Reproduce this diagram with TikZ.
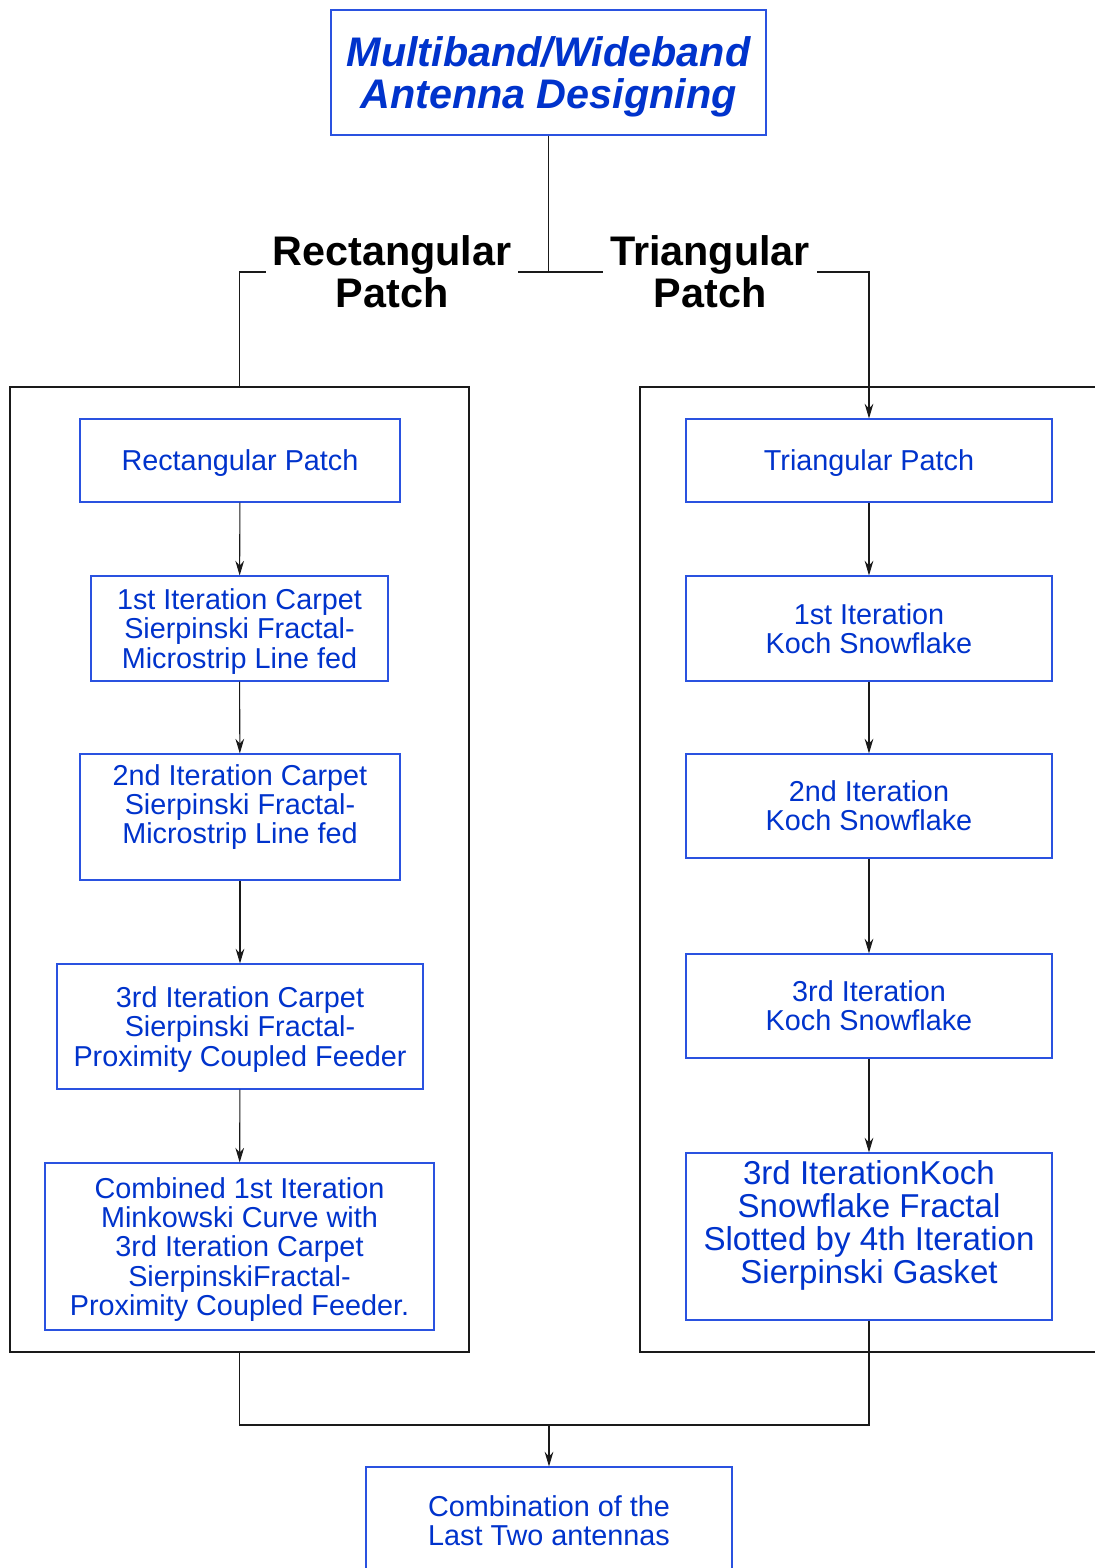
\documentclass[tikz,border=0pt]{standalone}
\usepackage{fontspec}
\setmainfont{Liberation Sans}
\usetikzlibrary{arrows.meta,positioning}
\definecolor{ink}{HTML}{0033CC}
\definecolor{edgec}{HTML}{2A52E0}
\definecolor{linec}{HTML}{1A1A1A}
\tikzset{
  box/.style={draw=edgec,fill=white,line width=0.8pt,align=center,text=ink,inner sep=0pt,
    text depth=0pt,font=\fontsize{21.6}{21.8}\selectfont},
  bigbox/.style={box,font=\fontsize{24.8}{24.8}\selectfont},
  headbox/.style={box,font=\fontsize{31}{31.5}\selectfont\bfseries\itshape},
  grp/.style={draw=linec,line width=0.8pt,inner sep=0pt},
  arm/.style={align=center,text=black,inner sep=0pt,minimum height=20pt,
    font=\fontsize{31}{31.5}\selectfont\bfseries},
  wire/.style={draw=linec,line width=0.8pt},
  flow/.style={wire,-{Stealth[length=11pt,width=6.5pt]}}
}
\begin{document}
\begin{tikzpicture}[x=0.75pt,y=-0.75pt]
  \useasboundingbox (0,0) rectangle (1095,1568);
  % title and the two branches
  \node[headbox,minimum width=326.25pt,minimum height=93.75pt] (title) at (548.5,72.5)
    {Multiband/Wideband\\Antenna Designing};
  \node[arm,minimum width=189pt] (rlab) at (392,272) {Rectangular\\Patch};
  \node[arm,minimum width=160.5pt] (tlab) at (710,272) {Triangular\\Patch};
  % group frames
  \node[grp,minimum width=344.25pt,minimum height=723.75pt] (lgrp) at (239.5,869.5) {};
  \node[grp,minimum width=345pt,minimum height=723.75pt] (rgrp) at (870,869.5) {};
  % rectangular arm
  \node[box,minimum width=240pt,minimum height=62.25pt] (rp) at (240,460.5) {Rectangular Patch};
  \node[box,minimum width=222.75pt,minimum height=78.75pt] (r1) at (239.5,628.5)
    {1st Iteration Carpet\\Sierpinski Fractal-\\Microstrip Line fed};
  \node[box,minimum width=240pt,minimum height=94.5pt,text depth=19pt] (r2) at (240,817)
    {2nd Iteration Carpet\\Sierpinski Fractal-\\Microstrip Line fed};
  \node[box,minimum width=274.5pt,minimum height=93.75pt] (r3) at (240,1026.5)
    {3rd Iteration Carpet\\Sierpinski Fractal-\\Proximity Coupled Feeder};
  \node[box,minimum width=291.75pt,minimum height=125.25pt] (r4) at (239.5,1246.5)
    {Combined 1st Iteration\\Minkowski Curve with\\3rd Iteration Carpet\\SierpinskiFractal-\\Proximity Coupled Feeder.};
  % triangular arm
  \node[box,minimum width=274.5pt,minimum height=62.25pt] (tp) at (869,460.5) {Triangular Patch};
  \node[box,minimum width=274.5pt,minimum height=78.75pt] (t1) at (869,628.5) {1st Iteration\\Koch Snowflake};
  \node[box,minimum width=274.5pt,minimum height=78pt] (t2) at (869,806) {2nd Iteration\\Koch Snowflake};
  \node[box,minimum width=274.5pt,minimum height=78pt] (t3) at (869,1006) {3rd Iteration\\Koch Snowflake};
  \node[bigbox,minimum width=274.5pt,minimum height=125.25pt,text depth=22pt] (t4) at (869,1236.5)
    {3rd IterationKoch\\Snowflake Fractal\\Slotted by 4th Iteration\\Sierpinski Gasket};
  % result
  \node[box,minimum width=274.5pt,minimum height=81pt] (comb) at (549,1521)
    {Combination of the\\Last Two antennas};
  % branch wiring
  \coordinate (split) at (title.south |- rlab);
  \draw[wire] (title.south) -- (split);
  \draw[wire] (split) -- (rlab.east);
  \draw[wire] (split) -- (tlab.west);
  \draw[wire] (rlab.west) -| (lgrp.north);
  \draw[flow] (tlab.east) -| (tp.north);
  % chains
  \foreach \a/\b in {rp/r1,r1/r2,r2/r3,r3/r4,tp/t1,t1/t2,t2/t3,t3/t4}{%
    \draw[flow] (\a) -- (\b);}
  % merge
  \coordinate (merge) at (549,1425);
  \draw[wire] (lgrp.south) |- (merge);
  \draw[wire] (t4.south) |- (merge);
  \draw[flow] (merge) -- (comb.north);
\end{tikzpicture}
\end{document}
